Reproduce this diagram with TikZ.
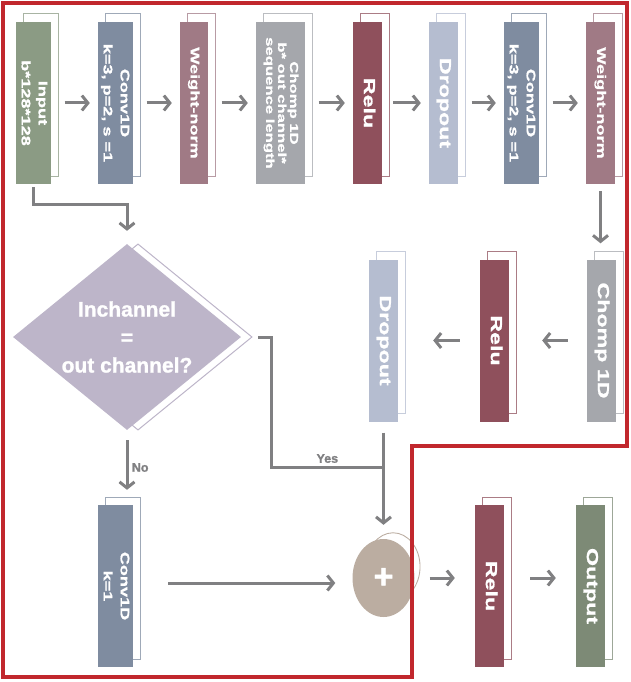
\documentclass[tikz,border=0pt]{standalone}
\usepackage{fontspec}
\usepackage{graphicx}
\setmainfont{Liberation Sans}
\newfontfamily\blockfont{Liberation Sans Bold}[FakeStretch=1.45,FakeBold=1.2]
\newfontfamily\heavyfont{Liberation Sans Bold}[FakeBold=1.2]
\usetikzlibrary{shapes.geometric,shadows,arrows.meta}

\definecolor{inputc}{HTML}{8B9B84}
\definecolor{outputc}{HTML}{7D8A76}
\definecolor{convc}{HTML}{7F8CA0}
\definecolor{wnormc}{HTML}{A07A85}
\definecolor{chompc}{HTML}{A5A7AC}
\definecolor{reluc}{HTML}{8F505C}
\definecolor{dropc}{HTML}{B5BDD0}
\definecolor{checkc}{HTML}{BDB5C9}
\definecolor{addc}{HTML}{BBADA1}
\definecolor{framec}{HTML}{C1272D}
\definecolor{linec}{HTML}{808082}

\newcommand\vlabel[1]{\rotatebox{-90}{\begin{tabular}{@{}c@{}}#1\end{tabular}}}

\tikzset{
  block/.style={fill=#1, inner sep=0pt, text=white,
    general shadow={fill=white, draw=#1!75, line width=1pt, shadow xshift=7pt, shadow yshift=8pt}},
  bigtxt/.style={font=\blockfont\fontsize{16}{18}\selectfont},
  midtxt/.style={font=\blockfont\fontsize{12.5}{17}\selectfont},
  tinytxt/.style={font=\blockfont\fontsize{11.5}{12}\selectfont},
  decision/.style={diamond, fill=checkc, inner sep=0pt, text=white, align=center,
    minimum width=228pt, minimum height=186pt, aspect=1.226,
    font=\heavyfont\fontsize{21}{28}\selectfont,
    general shadow={fill=white, draw=checkc, line width=1pt, shadow xshift=11pt, shadow yshift=0pt}},
  sumnode/.style={ellipse, fill=addc, inner sep=0pt, text=white,
    minimum width=62pt, minimum height=78pt,
    font=\heavyfont\fontsize{34}{34}\selectfont,
    general shadow={fill=white, draw=addc, line width=1pt, shadow xshift=11pt, shadow yshift=13pt, shadow scale=0.87}},
  arr/.style={draw=linec, line width=3pt, -{Straight Barb[length=6pt,width=15pt]}},
  link/.style={draw=linec, line width=3pt},
  lbl/.style={text=linec, font=\heavyfont\fontsize{12.5}{14}\selectfont},
  frame/.style={draw=framec, line width=3.5pt}
}

\begin{document}
\begin{tikzpicture}[x=1pt,y=-1pt]
    \useasboundingbox (0,0) rectangle (630,682);
    % top row
    \node[block=inputc, minimum width=35pt, minimum height=162pt, midtxt] (input) at (33.5,103) {\vlabel{Input\\b*128*128}};
    \node[block=convc, minimum width=35pt, minimum height=162pt, midtxt] (conv1) at (115.5,103) {\vlabel{Conv1D\\k=3, p=2, s =1}};
    \node[block=wnormc, minimum width=28pt, minimum height=162pt, midtxt] (wnorm1) at (194,103) {\vlabel{Weight-norm}};
    \node[block=chompc, minimum width=49pt, minimum height=162pt, tinytxt] (chomp1) at (280.5,103) {\vlabel{Chomp 1D\\b* out channel*\\sequence length}};
    \node[block=reluc, minimum width=29pt, minimum height=162pt, bigtxt] (relu1) at (367.5,103) {\vlabel{Relu}};
    \node[block=dropc, minimum width=29pt, minimum height=162pt, bigtxt] (drop1) at (443.5,103) {\vlabel{Dropout}};
    \node[block=convc, minimum width=35pt, minimum height=162pt, midtxt] (conv2) at (521.5,103) {\vlabel{Conv1D\\k=3, p=2, s =1}};
    \node[block=wnormc, minimum width=29pt, minimum height=162pt, midtxt] (wnorm2) at (600.5,103) {\vlabel{Weight-norm}};
    % middle row
    \node[block=chompc, minimum width=29pt, minimum height=162pt, bigtxt] (chomp2) at (601.5,340.5) {\vlabel{Chomp 1D}};
    \node[block=reluc, minimum width=29pt, minimum height=162pt, bigtxt] (relu2) at (494.5,340.5) {\vlabel{Relu}};
    \node[block=dropc, minimum width=29pt, minimum height=162pt, bigtxt] (drop2) at (383.5,340.5) {\vlabel{Dropout}};
    \node[decision] (check) at (127,337) {Inchannel\\=\\out channel?};
    % bottom row
    \node[block=convc, minimum width=35pt, minimum height=162pt, midtxt] (conv3) at (115.5,586) {\vlabel{Conv1D\\k=1}};
    \node[sumnode] (add) at (383.5,578) {+};
    \node[block=reluc, minimum width=29pt, minimum height=162pt, bigtxt] (relu3) at (489.5,586) {\vlabel{Relu}};
    \node[block=outputc, minimum width=29pt, minimum height=162pt, bigtxt] (output) at (590.5,586) {\vlabel{Output}};
    \coordinate (join) at ([yshift=-46pt]drop2.south);

    \draw[arr, shorten <=13.5pt, shorten >=8pt] (input.east) -- (conv1.west);
    \draw[arr, shorten <=13.5pt, shorten >=8pt] (conv1.east) -- (wnorm1.west);
    \draw[arr, shorten <=13.5pt, shorten >=8pt] (wnorm1.east) -- (chomp1.west);
    \draw[arr, shorten <=13.5pt, shorten >=8pt] (chomp1.east) -- (relu1.west);
    \draw[arr, shorten <=11pt, shorten >=8pt] (relu1.east) -- (drop1.west);
    \draw[arr, shorten <=13.5pt, shorten >=8pt] (drop1.east) -- (conv2.west);
    \draw[arr, shorten <=13.5pt, shorten >=8pt] (conv2.east) -- (wnorm2.west);
    \draw[arr, shorten <=7pt, shorten >=16pt] (wnorm2.south) -- (wnorm2.south |- chomp2.north);
    \draw[arr, shorten <=19pt, shorten >=33pt] (chomp2.west) -- (relu2.east);
    \draw[arr, shorten <=20pt, shorten >=35pt] (relu2.west) -- (drop2.east);
    \draw[arr, shorten <=3pt, shorten >=13pt] (input.south) -- ++(0,20) -| (check.north);
    \draw[arr, shorten <=10pt, shorten >=15pt] (check.south) -- (check.south |- conv3.north) node[midway, right, lbl] {No};
    \draw[link] ([xshift=17pt]check.east) -- ++(13,0) |- (join) node[pos=0.75, above, lbl] {Yes};
    \draw[arr, shorten <=11pt, shorten >=14pt] (drop2.south) -- (add.north);
    \draw[arr, shorten <=35pt, shorten >=17pt] ([yshift=3pt]conv3.east) -- ([yshift=3pt]conv3.east -| add.west);
    \draw[arr, shorten <=15pt, shorten >=20pt] (add.east) -- (add.east -| relu3.west);
    \draw[arr, shorten <=26pt, shorten >=20pt] (relu3.east |- add.east) -- (output.west |- add.east);
    % red frame
    \draw[frame] (3,3) -- (627,3) -- (627,446) -- (412,446) -- (412,677) -- (3,677) -- cycle;
\end{tikzpicture}
\end{document}
